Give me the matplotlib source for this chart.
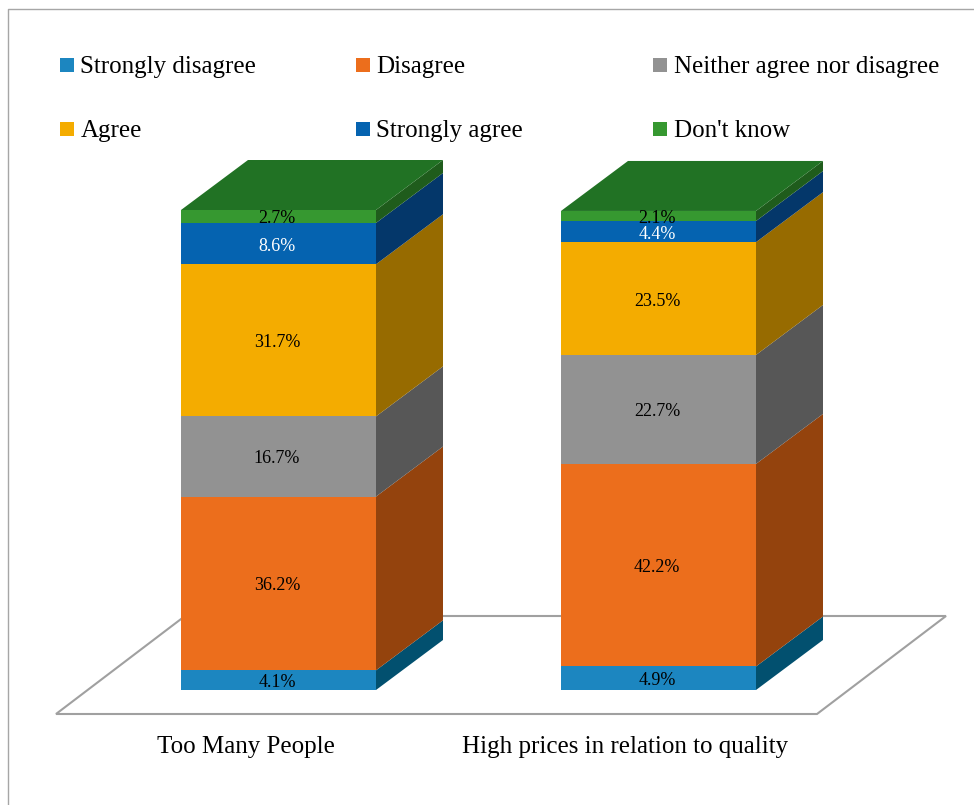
import matplotlib
matplotlib.use('Agg')
import matplotlib.pyplot as plt
from matplotlib.patches import Polygon, Rectangle

categories = ['Too Many People', 'High prices in relation to quality']
series = ['Strongly disagree', 'Disagree', 'Neither agree nor disagree',
          'Agree', 'Strongly agree', "Don't know"]
too_many = [4.1, 36.2, 16.7, 31.7, 8.6, 2.7]
high_prices = [4.9, 42.2, 22.7, 23.5, 4.4, 2.1]

front_colors = ['#1c86c0', '#ec6e1c', '#929292', '#f4ac00', '#0563b0', '#369830']
side_colors = ['#02506f', '#94430d', '#575757', '#976b00', '#04376a', '#1f5c1c']
top_color = '#217224'
text_colors = ['black', 'black', 'black', 'black', 'white', 'black']

W, H = 974, 805
plt.rcParams['font.family'] = ['Liberation Serif', 'DejaVu Serif']

fig = plt.figure(figsize=(W / 100, H / 100), dpi=100)
# whole figure in pixels for the frame, floor and legend
ax = fig.add_axes([0, 0, 1, 1])
ax.set_xlim(0, W)
ax.set_ylim(H, 0)
ax.axis('off')

ax.plot([8, 8, W], [H, 9, 9], color='#a6a6a6', lw=1)

# floor of the 3d chart
floor = Polygon([(56, 714), (817, 714), (946, 616), (185, 616)], closed=True,
                facecolor='white', edgecolor='#a0a0a0', lw=1.5)
ax.add_patch(floor)

# y axis for the values: 100% is 480 px
base_y = 690
px_per_pct = 4.8
dx, dy = 67, -50
bar_w = 195
bar_left = [181, 561]


def draw_stack(left, values):
    bottom = 0
    for i, v in enumerate(values):
        y0 = base_y - bottom * px_per_pct
        y1 = base_y - (bottom + v) * px_per_pct
        ax.add_patch(Polygon([(left + bar_w, y0), (left + bar_w + dx, y0 + dy),
                              (left + bar_w + dx, y1 + dy), (left + bar_w, y1)],
                             closed=True, facecolor=side_colors[i], edgecolor='none'))
        ax.add_patch(Rectangle((left, y1), bar_w, y0 - y1, facecolor=front_colors[i],
                               edgecolor='none'))
        ax.text(left + bar_w / 2 - 1.5, (y0 + y1) / 2 + 2.5, '%.1f%%' % v, ha='center',
                va='center', fontsize=13, color=text_colors[i])
        bottom += v
    y_top = base_y - bottom * px_per_pct
    ax.add_patch(Polygon([(left, y_top), (left + bar_w, y_top),
                          (left + bar_w + dx, y_top + dy), (left + dx, y_top + dy)],
                         closed=True, facecolor=top_color, edgecolor='none'))


draw_stack(bar_left[0], too_many)
draw_stack(bar_left[1], high_prices)

ax.text(246, 747, categories[0], ha='center', va='center', fontsize=18)
ax.text(625, 747, categories[1], ha='center', va='center', fontsize=18)

# legend laid out by hand, three columns two rows
leg_x = [60, 356, 653]
leg_y = [65, 129]
for i, name in enumerate(series):
    x = leg_x[i % 3]
    y = leg_y[i // 3]
    ax.add_patch(Rectangle((x, y - 7), 14, 14, facecolor=front_colors[i], edgecolor='none'))
    ax.text(x + 20.5, y + 2, name, ha='left', va='center', fontsize=18)

fig.savefig('out.png', dpi=100)
